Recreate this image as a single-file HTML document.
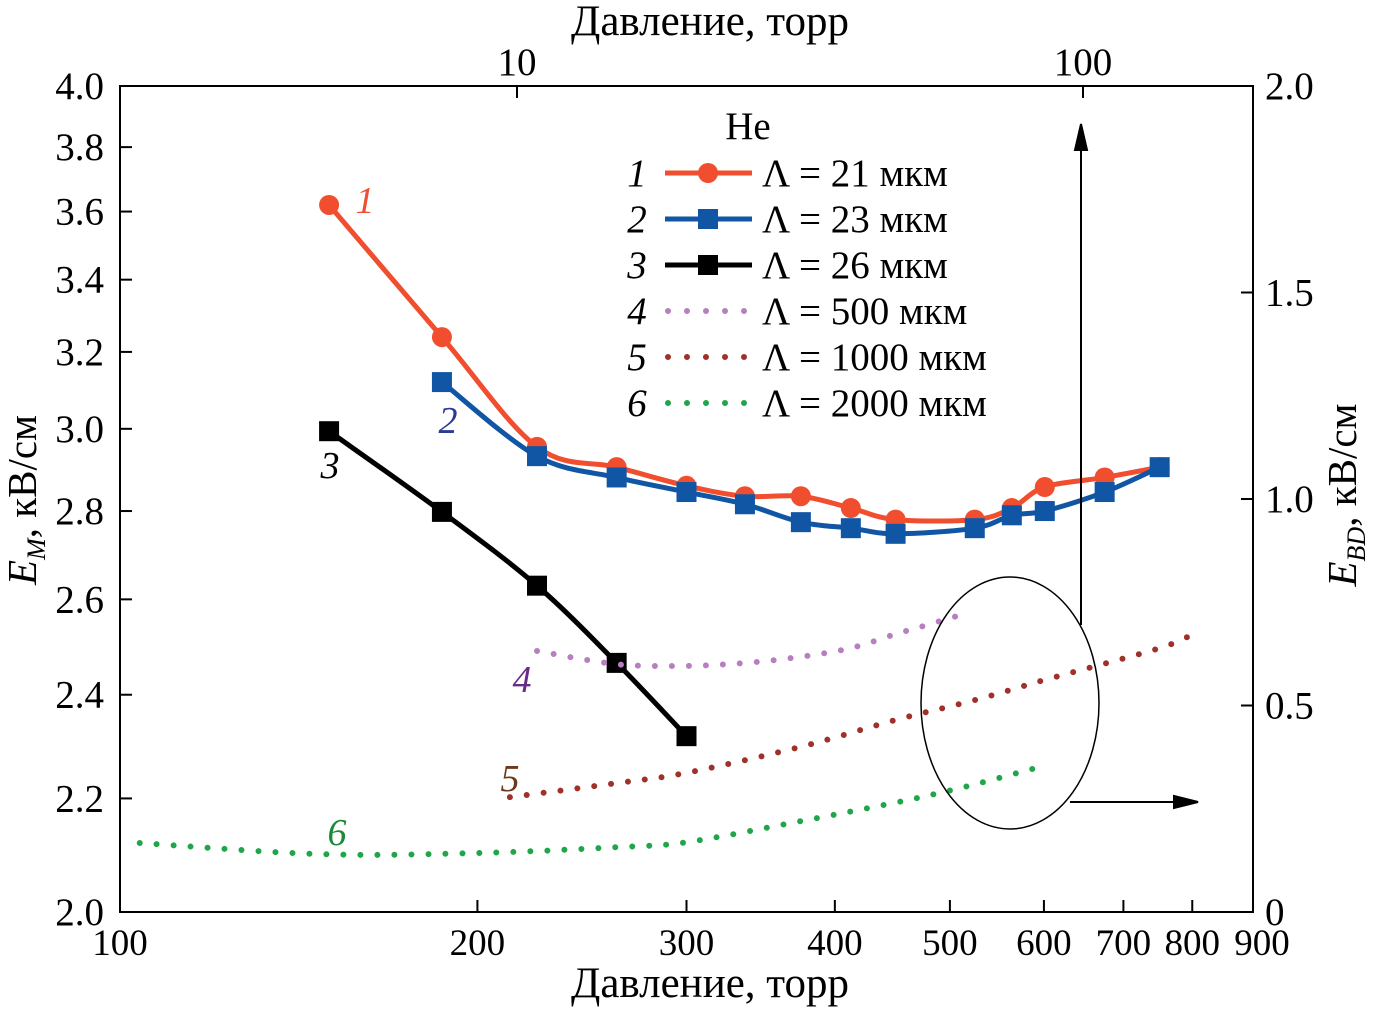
<!DOCTYPE html>
<html><head><meta charset="utf-8"><style>
body{margin:0;background:#fff}
svg{display:block;font-family:"Liberation Serif",serif}
</style></head><body>
<svg id="chart" width="1377" height="1009" viewBox="0 0 1377 1009" xmlns="http://www.w3.org/2000/svg">
<g id="axes"></g>
<g id="series"></g>
<g id="annot"></g>
</svg>
<script>
const xTickValues=[100,200,300,400,500,600,700,800,900];
const yLeftTicks=[2.0,2.2,2.4,2.6,2.8,3.0,3.2,3.4,3.6,3.8,4.0];
const yRightTicks=[0,0.5,1.0,1.5,2.0];
const topTicks=[10,100];
const p1=[150,186.7,224.5,262,300,336,374.5,412.6,450,524.7,563.8,601,675,751];
const e1=[3.62,3.24,2.955,2.905,2.86,2.835,2.835,2.807,2.78,2.78,2.807,2.857,2.88,2.905];
const p2=[186.7,224.5,262,300,336,374.5,412.6,450,524.7,563.8,601,675,751];
const e2=[3.12,2.932,2.88,2.845,2.816,2.774,2.76,2.747,2.76,2.79,2.80,2.845,2.905];
const p3=[150,186.7,224.5,262,300];
const e3=[2.994,2.798,2.63,2.465,2.318];
const p4=[224.5,262,300,336,374.5,412.6,450,481,519.6];
const v4=[0.632,0.60,0.596,0.603,0.618,0.639,0.673,0.697,0.726];
const p5=[213,262,300,374.5,450,524.7,601,751,807];
const v5=[0.278,0.312,0.337,0.40,0.465,0.513,0.562,0.639,0.678];
const p6=[103.9,148,201,262,300,374.5,450,509.7,595];
const v6=[0.167,0.140,0.143,0.157,0.169,0.220,0.265,0.30,0.351];

const L=120,R=1253,T=86,B=912;
const X=p=>L+(R-L)*Math.log10(p/100)/Math.log10(9);
const YL=e=>B-(B-T)*Math.log2(e/2);
const YR=v=>B-(B-T)*v/2;
const XT=p=>517+566*Math.log10(p/10);
const NS="http://www.w3.org/2000/svg";
function mk(tag,attrs,parent,text){const el=document.createElementNS(NS,tag);for(const k in attrs)el.setAttribute(k,attrs[k]);if(text!==undefined)el.textContent=text;parent.appendChild(el);return el;}
const axes=document.getElementById('axes'),ser=document.getElementById('series'),ann=document.getElementById('annot');
let fr=mk('rect',{x:L,y:T,width:R-L,height:B-T,fill:'none',stroke:'#000','stroke-width':2},axes);


xTickValues.forEach(v=>{const x=X(v);
 if(v>100&&v<900){const t=mk('line',{x1:x,y1:B,x2:x,y2:B-12,stroke:'#000','stroke-width':2},axes);}
 const tx=mk('text',{x:v===900?x+9:x,y:955,'font-size':37,'text-anchor':'middle'},axes,v);
 
 });
yLeftTicks.forEach(v=>{const y=YL(v);
 const t=mk('line',{x1:L,y1:y,x2:L+12,y2:y,stroke:'#000','stroke-width':2},axes);
 const tx=mk('text',{x:104,y:y+13,'font-size':39,'text-anchor':'end'},axes,v.toFixed(1));
 
 });
yRightTicks.forEach(v=>{const y=YR(v);
 const t=mk('line',{x1:R,y1:y,x2:R-12,y2:y,stroke:'#000','stroke-width':2},axes);
 const tx=mk('text',{x:1265,y:y+13,'font-size':39},axes,v===0?'0':v.toFixed(1));
 
 });
topTicks.forEach(v=>{const x=XT(v);
 const t=mk('line',{x1:x,y1:T,x2:x,y2:T+12,stroke:'#000','stroke-width':2},axes);
 const tx=mk('text',{x:x,y:75,'font-size':39,'text-anchor':'middle'},axes,v);
 
 });
let at=mk('text',{x:710,y:35,'font-size':43,'text-anchor':'middle'},axes,'Давление, торр');
let ab=mk('text',{x:710,y:997,'font-size':43,'text-anchor':'middle'},axes,'Давление, торр');
let yl=mk('text',{transform:'translate(36,500) rotate(-90)','font-size':41,'text-anchor':'middle'},axes);
yl.innerHTML='<tspan font-style="italic">E</tspan><tspan font-style="italic" font-size="26" dy="9">M</tspan><tspan dy="-9">, кВ/см</tspan>';
let yr=mk('text',{transform:'translate(1356,495) rotate(-90)','font-size':41,'text-anchor':'middle'},axes);
yr.innerHTML='<tspan font-style="italic">E</tspan><tspan font-style="italic" font-size="26" dy="9">BD</tspan><tspan dy="-9">, кВ/см</tspan>';

function smooth(pts){let d=`M${pts[0][0]},${pts[0][1]}`;for(let i=0;i<pts.length-1;i++){const p0=pts[i-1]||pts[i],p1=pts[i],p2=pts[i+1],p3=pts[i+2]||p2;
 d+=` C${p1[0]+(p2[0]-p0[0])/6},${p1[1]+(p2[1]-p0[1])/6} ${p2[0]-(p3[0]-p1[0])/6},${p2[1]-(p3[1]-p1[1])/6} ${p2[0]},${p2[1]}`;}return d;}
function drawSolid(ps,es,color,marker,name){const pts=ps.map((p,i)=>[X(p),YL(es[i])]);
 const pa=mk('path',{d:smooth(pts),fill:'none',stroke:color,'stroke-width':5},ser);
 pts.forEach(q=>{let m;if(marker==='c')m=mk('circle',{cx:q[0],cy:q[1],r:10,fill:color},ser);else m=mk('rect',{x:q[0]-10,y:q[1]-10,width:20,height:20,fill:color},ser);
 });}
function drawDot(ps,vs,color,name){const pts=ps.map((p,i)=>[X(p),YR(vs[i])]);
 const pa=mk('path',{d:smooth(pts),fill:'none',stroke:color,'stroke-width':6,'stroke-linecap':'round','stroke-dasharray':'0 17'},ser);}
drawSolid(p1,e1,'#f04e2e','c','series-1');
drawSolid(p2,e2,'#1155a5','s','series-2');
drawSolid(p3,e3,'#000','s','series-3');
drawDot(p4,v4,'#b77fc0','series-4');
drawDot(p5,v5,'#a0302a','series-5');
drawDot(p6,v6,'#1fa64a','series-6');

let he=mk('text',{x:748,y:139,'font-size':39,'text-anchor':'middle'},ann,'He');
const legNums=['1','2','3','4','5','6'];
const legText=['Λ = 21 мкм','Λ = 23 мкм','Λ = 26 мкм','Λ = 500 мкм','Λ = 1000 мкм','Λ = 2000 мкм'];
const legColors=['#f04e2e','#1155a5','#000','#b77fc0','#a0302a','#1fa64a'];
legNums.forEach((n,i)=>{const y=173+i*46;
 const g=mk('g',{},ann);
 mk('text',{x:637,y:y+13,'font-size':39,'font-style':'italic','text-anchor':'middle'},g,n);
 if(i<3){mk('line',{x1:665,y1:y,x2:752,y2:y,stroke:legColors[i],'stroke-width':5},g);
  if(i===0)mk('circle',{cx:708,cy:y,r:10,fill:legColors[i]},g);else mk('rect',{x:698,y:y-10,width:20,height:20,fill:legColors[i]},g);}
 else mk('line',{x1:668,y1:y,x2:745,y2:y,stroke:legColors[i],'stroke-width':6,'stroke-linecap':'round','stroke-dasharray':'0 19'},g);
 mk('text',{x:762,y:y+13,'font-size':39},g,legText[i]);});
const cl=[['1',365,213,'#f04e2e'],['2',448,433,'#2a3a9a'],['3',330,478,'#000'],['4',522,692,'#6a2a8a'],['5',510,791,'#6a3a1a'],['6',337,845,'#1a8a3a']];
cl.forEach(c=>{const t=mk('text',{x:c[1],y:c[2],'font-size':38,'font-style':'italic','text-anchor':'middle',fill:c[3]},ann,c[0]);});
let el=mk('ellipse',{cx:1010,cy:703,rx:89,ry:126,fill:'none',stroke:'#000','stroke-width':1.5},ann);
let a1=mk('path',{d:'M1081,625 L1081,140 M1075,150 L1081,124 L1087,150 Z',fill:'#000',stroke:'#000','stroke-width':2},ann);
let a2=mk('path',{d:'M1070,802 L1180,802 M1174,796 L1198,802 L1174,808 Z',fill:'#000',stroke:'#000','stroke-width':2},ann);
</script>
</body></html>
